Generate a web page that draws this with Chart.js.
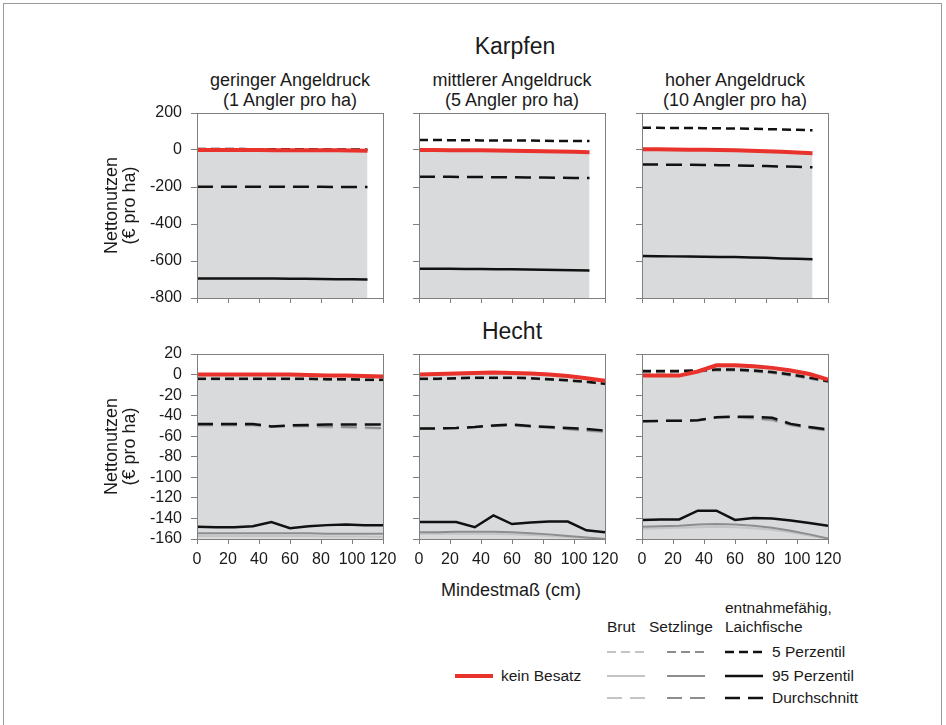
<!DOCTYPE html>
<html>
<head>
<meta charset="utf-8">
<script src="https://cdn.jsdelivr.net/npm/chart.js@4.4.1/dist/chart.umd.min.js"></script>
<style>
  body { margin: 0; background: #fff; font-family: "Liberation Sans", Arial, sans-serif; color: #1a1a1a; }
  #page { position: relative; width: 946px; height: 725px; overflow: hidden; }
  .frame { position: absolute; left: 3px; top: 3px; width: 937px; height: 740px; border: 1px solid #9a9a9a; }
  .panel { position: absolute; }
  .txt { position: absolute; white-space: nowrap; transform: translate(-50%, -50%); line-height: 1; }
  .lg { position: absolute; white-space: nowrap; transform: translateY(-50%); font-size: 15.5px; line-height: 1; }
  .smp { position: absolute; transform: translateY(-50%); }
</style>
</head>
<body>
<div id="page">
  <div class="frame"></div>

  <div class="txt" style="left:515px; top:46px; font-size:23px;">Karpfen</div>
  <div class="txt" style="left:290px; top:80px; font-size:18px;">geringer Angeldruck</div>
  <div class="txt" style="left:290px; top:100px; font-size:18px;">(1 Angler pro ha)</div>
  <div class="txt" style="left:512px; top:80px; font-size:18px;">mittlerer Angeldruck</div>
  <div class="txt" style="left:512px; top:100px; font-size:18px;">(5 Angler pro ha)</div>
  <div class="txt" style="left:735px; top:80px; font-size:18px;">hoher Angeldruck</div>
  <div class="txt" style="left:735px; top:100px; font-size:18px;">(10 Angler pro ha)</div>
  <div class="txt" style="left:512px; top:331px; font-size:23px;">Hecht</div>
  <div class="txt" style="left:511px; top:590px; font-size:18px;">Mindestmaß (cm)</div>

  <div class="panel" style="left:97px; top:93px; width:306px; height:235px;"><canvas id="k1"></canvas></div>
  <div class="panel" style="left:319px; top:93px; width:306px; height:235px;"><canvas id="k2"></canvas></div>
  <div class="panel" style="left:542px; top:93px; width:306px; height:235px;"><canvas id="k3"></canvas></div>
  <div class="panel" style="left:97px; top:334px; width:306px; height:235px;"><canvas id="h1"></canvas></div>
  <div class="panel" style="left:319px; top:334px; width:306px; height:235px;"><canvas id="h2"></canvas></div>
  <div class="panel" style="left:542px; top:334px; width:306px; height:235px;"><canvas id="h3"></canvas></div>

  <div id="legend"></div>
</div>

<script>
// x values (Mindestmaß in cm)
const karpfenX = [0, 10, 20, 30, 40, 50, 60, 70, 80, 90, 100, 110];
const hechtX = [0, 12, 24, 36, 48, 60, 72, 84, 96, 108, 120];

// tick settings [min, max, step]
const karpfenTicks = [-800, 200, 200];
const hechtTicks = [-160, 20, 20];
const xTicks = [0, 120, 20];

// Karpfen - geringer Angeldruck
const k1Red = [0, 0, 0, 0, 0, -1, -1, -1, -2, -2, -3, -4];
const k1P5 = [5, 5, 5, 5, 4, 4, 4, 4, 3, 3, 3, 2];
const k1Mean = [-198, -198, -198, -198, -198, -199, -199, -199, -199, -200, -200, -200];
const k1P95 = [-694, -694, -694, -695, -695, -695, -696, -696, -697, -698, -699, -700];

// Karpfen - mittlerer Angeldruck
const k2Red = [0, 0, -1, -1, -2, -3, -4, -5, -7, -8, -10, -12];
const k2P5 = [54, 54, 53, 53, 52, 52, 51, 51, 50, 49, 49, 48];
const k2Mean = [-145, -145, -145, -146, -146, -147, -147, -148, -149, -150, -151, -152];
const k2P95 = [-642, -642, -642, -643, -643, -644, -645, -646, -647, -648, -650, -651];

// Karpfen - hoher Angeldruck
const k3Red = [4, 4, 3, 2, 1, 0, -2, -4, -7, -10, -14, -18];
const k3P5 = [120, 120, 119, 119, 118, 117, 116, 115, 113, 111, 109, 107];
const k3Mean = [-79, -79, -80, -80, -81, -82, -83, -85, -87, -89, -91, -93];
const k3P95 = [-573, -574, -575, -576, -577, -578, -579, -581, -583, -586, -588, -591];

// Hecht - geringer Angeldruck
const h1Red = [0, 0, 0, 0, 0, 0, -0.5, -1, -1, -1.5, -2];
const h1P5 = [-4, -4, -4, -4, -4, -4, -4, -4.5, -4.5, -5, -5];
const h1Mean = [-48, -48, -48, -48, -50.5, -49.5, -49, -48.5, -48.5, -48.5, -48.5];
const h1P95 = [-148, -148.5, -148.5, -147.5, -143.5, -149.5, -147.5, -146.5, -146, -146.5, -146.5];
const h1BrutMean = [-50, -50, -50, -50, -51, -51, -51, -51.5, -52, -52.5, -53];
const h1SetzMean = [-49, -49, -49, -49, -50.5, -50, -50, -50.5, -51, -51.5, -52];
const h1BrutP95 = [-157, -157, -157, -157, -157, -157, -157, -157.5, -157.5, -157.5, -158];
const h1SetzP95 = [-154.5, -154.5, -154.5, -154.5, -154.5, -154.5, -154.5, -155, -155, -155, -155];
const h1SetzP5 = [-4.5, -4.5, -4.5, -4.5, -4.5, -4.5, -4.5, -5, -5, -5.5, -5.5];

// Hecht - mittlerer Angeldruck
const h2Red = [0, 0.5, 1, 1.5, 2, 1.5, 1, 0, -1.5, -3.5, -6];
const h2P5 = [-4, -4, -3.5, -3, -3, -3, -3.5, -4.5, -5.5, -7, -9];
const h2Mean = [-52.5, -52.5, -52, -51, -49.5, -48.5, -50, -51, -52, -53, -54.5];
const h2P95 = [-143.5, -143.5, -143.5, -148.5, -137, -145.5, -144, -143, -143, -151.5, -153.5];
const h2BrutMean = [-53, -53, -52.5, -51.5, -50.5, -50, -51, -52, -53.5, -55, -56.5];
const h2SetzMean = [-52.5, -52.5, -52, -51, -50, -49.5, -50.5, -51.5, -53, -54.5, -55.5];
const h2BrutP95 = [-155, -155, -155, -155, -155, -155.5, -156, -157, -158, -159, -160];
const h2SetzP95 = [-153.5, -153.5, -153, -153, -153, -153.5, -154.5, -155.5, -157, -158.5, -160];
const h2SetzP5 = [-4.5, -4.5, -4, -3.5, -3.5, -3.5, -4, -5, -6, -7.5, -9.5];

// Hecht - hoher Angeldruck
const h3Red = [-1, -1, -1, 3, 9, 9, 8, 6.5, 4, 0.5, -5];
const h3P5 = [3.5, 3.5, 3.5, 4, 5, 5, 4, 2.5, 0, -3, -6.5];
const h3Mean = [-45.5, -45, -45, -44.5, -41.5, -41, -41, -42, -48, -51, -53.5];
const h3P95 = [-141.5, -141, -141, -132.5, -132.5, -141.5, -139.5, -140, -142, -144.5, -147];
const h3BrutMean = [-45.5, -45, -45, -44.5, -42, -42, -43, -45, -49.5, -52.5, -55];
const h3SetzMean = [-45.5, -45, -45, -44.5, -41.5, -41.5, -42.5, -44, -49, -52, -54.5];
const h3BrutP95 = [-150, -149.5, -149, -148.5, -148, -148.5, -149.5, -151, -153.5, -156.5, -160];
const h3SetzP95 = [-148, -147.5, -147, -146, -145.5, -146, -147, -149, -152, -155.5, -159.5];
const h3SetzP5 = [2, 2, 2.5, 3, 4, 4, 3, 1.5, -1, -4, -7];

// line styles
const RED = '#e8322b';
const BLACK = '#111111';
const BRUT = '#c2c4c6';
const SETZ = '#8c8d8f';
const FILL = '#d9dadc';
const AXIS = '#7f7f7f';
const DASH_P5 = [9, 5];
const DASH_MEAN = [16, 8];

Chart.defaults.font.family = '"Liberation Sans", Arial, sans-serif';
Chart.defaults.color = '#1a1a1a';

// draws the box round the plot area
const framePlugin = {
    id: 'frame',
    afterDraw(chart) {
        const a = chart.chartArea;
        const ctx = chart.ctx;
        ctx.save();
        ctx.strokeStyle = AXIS;
        ctx.lineWidth = 1;
        ctx.strokeRect(Math.round(a.left) + 0.5, Math.round(a.top) + 0.5, Math.round(a.right - a.left), Math.round(a.bottom - a.top));
        ctx.restore();
    }
};

function line(xs, ys, color, width, dash, fill) {
    return {
        data: xs.map((x, i) => ({ x: x, y: ys[i] })),
        borderColor: color,
        borderWidth: width,
        borderDash: dash || [],
        pointRadius: 0,
        tension: 0,
        fill: fill ? 'start' : false,
        backgroundColor: fill ? FILL : 'transparent'
    };
}

function createPanel(id, datasets, yTicks, showY, showX) {
    const ctx = document.getElementById(id).getContext('2d');
    new Chart(ctx, {
        type: 'line',
        data: { datasets: datasets },
        plugins: [framePlugin],
        options: {
            responsive: true,
            maintainAspectRatio: false,
            animation: false,
            layout: { padding: { top: 20, right: 20, left: 0, bottom: 0 } },
            plugins: {
                legend: { display: false },
                tooltip: { enabled: false },
                filler: { drawTime: 'beforeDatasetsDraw' }
            },
            scales: {
                x: {
                    type: 'linear',
                    min: xTicks[0],
                    max: xTicks[1],
                    ticks: { stepSize: xTicks[2], display: showX, font: { size: 16 }, padding: 6, maxRotation: 0, autoSkip: false },
                    grid: { drawOnChartArea: false, drawTicks: true, tickLength: 5, color: AXIS },
                    border: { display: true, color: AXIS },
                    afterFit: function(scale) { scale.height = 30; }
                },
                y: {
                    min: yTicks[0],
                    max: yTicks[1],
                    ticks: { stepSize: yTicks[2], display: showY, font: { size: 16 }, padding: 9, autoSkip: false },
                    grid: { drawOnChartArea: false, drawTicks: true, tickLength: 6, color: AXIS },
                    border: { display: true, color: AXIS },
                    title: {
                        display: showY,
                        text: ['Nettonutzen', '(€ pro ha)'],
                        font: { size: 18, lineHeight: 1 },
                        padding: { top: 6, bottom: 0 }
                    },
                    afterFit: function(scale) { scale.width = 100; }
                }
            }
        }
    });
}

// Karpfen row (Brut / Setzlinge lines sit under the black ones)
function karpfenSets(red, p5, mean, p95) {
    return [
        line(karpfenX, red, RED, 4, null, true),
        line(karpfenX, p5, BLACK, 2.5, DASH_P5),
        line(karpfenX, mean, BLACK, 2.5, DASH_MEAN),
        line(karpfenX, p95, BLACK, 2.5)
    ];
}

// Hecht row
function hechtSets(red, p5, mean, p95, brutMean, setzMean, brutP95, setzP95, setzP5) {
    return [
        line(hechtX, red, RED, 4, null, true),
        line(hechtX, p5, BLACK, 2.5, DASH_P5),
        line(hechtX, mean, BLACK, 2.5, DASH_MEAN),
        line(hechtX, p95, BLACK, 2.5),
        line(hechtX, setzP5, SETZ, 2, DASH_P5),
        line(hechtX, setzMean, SETZ, 2, DASH_MEAN),
        line(hechtX, setzP95, SETZ, 2),
        line(hechtX, brutMean, BRUT, 2, DASH_MEAN),
        line(hechtX, brutP95, BRUT, 2)
    ];
}

createPanel('k1', karpfenSets(k1Red, k1P5, k1Mean, k1P95), karpfenTicks, true, false);
createPanel('k2', karpfenSets(k2Red, k2P5, k2Mean, k2P95), karpfenTicks, false, false);
createPanel('k3', karpfenSets(k3Red, k3P5, k3Mean, k3P95), karpfenTicks, false, false);
createPanel('h1', hechtSets(h1Red, h1P5, h1Mean, h1P95, h1BrutMean, h1SetzMean, h1BrutP95, h1SetzP95, h1SetzP5), hechtTicks, true, true);
createPanel('h2', hechtSets(h2Red, h2P5, h2Mean, h2P95, h2BrutMean, h2SetzMean, h2BrutP95, h2SetzP95, h2SetzP5), hechtTicks, false, true);
createPanel('h3', hechtSets(h3Red, h3P5, h3Mean, h3P95, h3BrutMean, h3SetzMean, h3BrutP95, h3SetzP95, h3SetzP5), hechtTicks, false, true);

// legend, built as html with small svg line samples
const legendRows = ['5 Perzentil', '95 Perzentil', 'Durchschnitt'];
const legendRowY = [652, 676, 698];
const legendCols = [{ x: 607, color: BRUT, w: 2 }, { x: 667, color: SETZ, w: 2 }, { x: 725, color: BLACK, w: 2.5 }];
const legendDash = ['9 5', '', '15 8'];

function sample(x, y, color, width, dash) {
    return '<svg class="smp" style="left:' + x + 'px; top:' + y + 'px;" width="38" height="6">' +
        '<line x1="0" y1="3" x2="38" y2="3" stroke="' + color + '" stroke-width="' + width + '"' +
        (dash ? ' stroke-dasharray="' + dash + '"' : '') + '/></svg>';
}

function label(x, y, text) {
    return '<div class="lg" style="left:' + x + 'px; top:' + y + 'px;">' + text + '</div>';
}

let html = '';
html += sample(455, 676, RED, 4, '');
html += label(501, 676, 'kein Besatz');
html += label(607, 627, 'Brut');
html += label(649, 627, 'Setzlinge');
html += label(725, 608, 'entnahmefähig,');
html += label(725, 627, 'Laichfische');
legendRows.forEach((row, r) => {
    legendCols.forEach(col => {
        html += sample(col.x, legendRowY[r], col.color, col.w, legendDash[r]);
    });
    html += label(772, legendRowY[r], row);
});
document.getElementById('legend').innerHTML = html;
</script>
</body>
</html>
